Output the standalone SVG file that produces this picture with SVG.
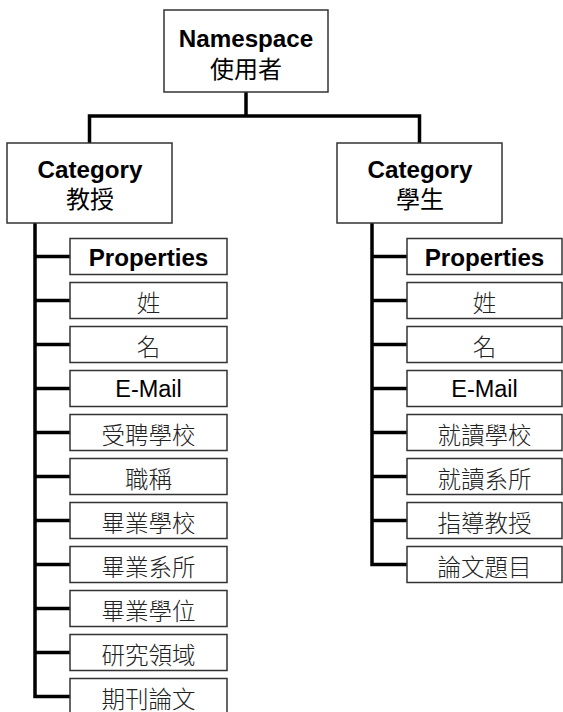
<svg xmlns="http://www.w3.org/2000/svg" width="563" height="712" viewBox="0 0 563 712">
<style>
.box{fill:#fff;stroke:#333;stroke-width:1.5}
.con{fill:none;stroke:#000;stroke-width:3.5;stroke-linejoin:miter}
text{text-anchor:middle;font-family:"Liberation Sans","Noto Sans CJK TC",sans-serif}
.b{font-weight:bold;font-size:24.2px;fill:#000}
.c{font-size:24px;fill:#000}
.p{font-size:23.5px;fill:#222;font-weight:300}
.l{font-size:23.5px;fill:#000}
</style>
<rect width="563" height="712" fill="#fff"/>
<g id="connectors">
<path class="con" d="M246,92 V116"/>
<path class="con" d="M89.5,143 V116 H419.5 V143"/>
<path class="con" d="M35,223 V696.5 H70"/>
<path class="con" d="M35,256.5 H70 M35,300.5 H70 M35,344.5 H70 M35,388.5 H70 M35,432.5 H70 M35,476.5 H70 M35,520.5 H70 M35,564.5 H70 M35,608.5 H70 M35,652.5 H70"/>
<path class="con" d="M372,223 V564.5 H407"/>
<path class="con" d="M372,256.5 H407 M372,300.5 H407 M372,344.5 H407 M372,388.5 H407 M372,432.5 H407 M372,476.5 H407 M372,520.5 H407"/>
</g>
<g id="namespace">
<rect class="box" x="164" y="10" width="164" height="82"/>
<text class="b" x="246" y="46.5">Namespace</text>
<text class="c" x="246" y="77.5">使用者</text>
</g>
<g id="cat-professor">
<rect class="box" x="7" y="143" width="165" height="80"/>
<text class="b" x="90" y="177.5">Category</text>
<text class="c" x="90" y="208">教授</text>
</g>
<g id="cat-student">
<rect class="box" x="337" y="143" width="165" height="80"/>
<text class="b" x="420" y="177.5">Category</text>
<text class="c" x="420" y="208">學生</text>
</g>
<g id="prof-properties"><rect class="box" x="70" y="238.5" width="157" height="36"/><text class="b" x="148.5" y="265.5">Properties</text></g>
<g id="prof-surname"><rect class="box" x="70" y="282.5" width="157" height="36"/><text class="p" x="148.5" y="311.5">姓</text></g>
<g id="prof-name"><rect class="box" x="70" y="326.5" width="157" height="36"/><text class="p" x="148.5" y="355.5">名</text></g>
<g id="prof-email"><rect class="box" x="70" y="370.5" width="157" height="36"/><text class="l" x="148.5" y="396.8">E-Mail</text></g>
<g id="prof-school"><rect class="box" x="70" y="414.5" width="157" height="36"/><text class="p" x="148.5" y="444">受聘學校</text></g>
<g id="prof-title"><rect class="box" x="70" y="458.5" width="157" height="36"/><text class="p" x="148.5" y="488">職稱</text></g>
<g id="prof-gradschool"><rect class="box" x="70" y="502.5" width="157" height="36"/><text class="p" x="148.5" y="532">畢業學校</text></g>
<g id="prof-graddept"><rect class="box" x="70" y="546.5" width="157" height="36"/><text class="p" x="148.5" y="576">畢業系所</text></g>
<g id="prof-degree"><rect class="box" x="70" y="590.5" width="157" height="36"/><text class="p" x="148.5" y="620">畢業學位</text></g>
<g id="prof-field"><rect class="box" x="70" y="634.5" width="157" height="36"/><text class="p" x="148.5" y="664">研究領域</text></g>
<g id="prof-papers"><rect class="box" x="70" y="678.5" width="157" height="36"/><text class="p" x="148.5" y="708">期刊論文</text></g>
<g id="stu-properties"><rect class="box" x="407" y="238.5" width="155" height="36"/><text class="b" x="484.5" y="265.5">Properties</text></g>
<g id="stu-surname"><rect class="box" x="407" y="282.5" width="155" height="36"/><text class="p" x="484.5" y="311.5">姓</text></g>
<g id="stu-name"><rect class="box" x="407" y="326.5" width="155" height="36"/><text class="p" x="484.5" y="355.5">名</text></g>
<g id="stu-email"><rect class="box" x="407" y="370.5" width="155" height="36"/><text class="l" x="484.5" y="396.8">E-Mail</text></g>
<g id="stu-school"><rect class="box" x="407" y="414.5" width="155" height="36"/><text class="p" x="484.5" y="444">就讀學校</text></g>
<g id="stu-dept"><rect class="box" x="407" y="458.5" width="155" height="36"/><text class="p" x="484.5" y="488">就讀系所</text></g>
<g id="stu-advisor"><rect class="box" x="407" y="502.5" width="155" height="36"/><text class="p" x="484.5" y="532">指導教授</text></g>
<g id="stu-thesis"><rect class="box" x="407" y="546.5" width="155" height="36"/><text class="p" x="484.5" y="576">論文題目</text></g>
</svg>
